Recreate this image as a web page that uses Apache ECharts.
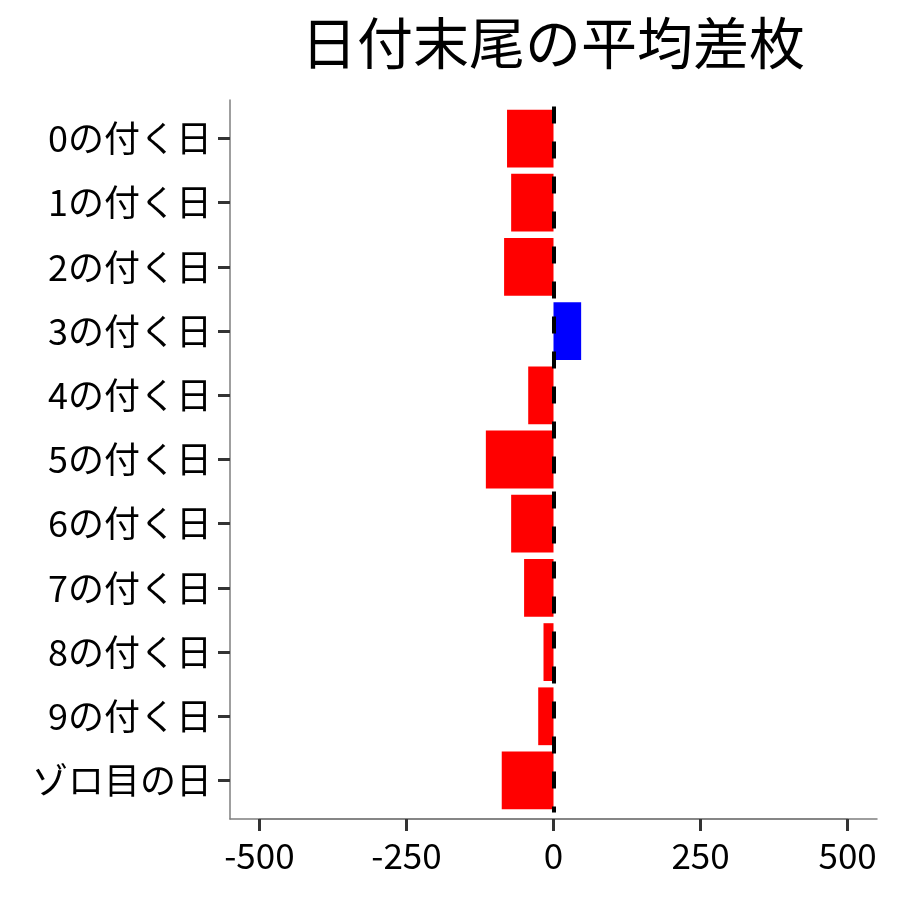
<!DOCTYPE html>
<html>
<head>
<meta charset="utf-8">
<script src="https://cdn.jsdelivr.net/npm/echarts@6/dist/echarts.min.js"></script>
<style>
  html, body { margin: 0; padding: 0; background: #fff; }
  #main { width: 900px; height: 900px; }
</style>
</head>
<body>
<div id="main"></div>
<script>
// 日付末尾ごとの平均差枚
var days = ['0の付く日', '1の付く日', '2の付く日', '3の付く日', '4の付く日',
  '5の付く日', '6の付く日', '7の付く日', '8の付く日', '9の付く日', 'ゾロ目の日']
var diffs = [-79, -72, -84, 47, -43, -115, -72, -50, -17, -26, -88]
var xTickLabels = ['-500', '-250', '0', '250', '500']
var xMin = -500
var xMax = 500
var xPad = 50   // 軸の余白 (ggplot風)

var font = '"Noto Sans CJK JP", "Noto Sans", sans-serif'

// 枠の位置
var L = 230, R = 23, T = 100, B = 81
var tickLen = 12
var plotW = 900 - L - R
var plotH = 900 - T - B
var padPx = plotW * xPad / (xMax - xMin + 2 * xPad)
var unitH = plotH / (days.length + 0.2)
var padY = unitH * 0.1

// 正負で色分け
var barData = []
for (var i = 0; i < diffs.length; i++) {
  barData.push({
    value: diffs[i],
    itemStyle: { color: diffs[i] >= 0 ? '#0000FF' : '#FF0000' }
  })
}

var chart = echarts.init(document.getElementById('main'))

var option = {
  backgroundColor: '#fff',
  animation: false,
  title: {
    text: '日付末尾の平均差枚',
    left: 548,
    textAlign: 'center',
    top: 10,
    textStyle: { fontFamily: font, fontSize: 56, fontWeight: 'normal', color: '#000' }
  },
  grid: [
    // 0: 軸線だけ
    { left: L, right: R, top: T, bottom: B },
    // 1: 棒
    { left: L, right: R, top: T + padY, bottom: B + padY },
    // 2: x目盛り (-500 〜 500)
    { left: L + padPx, right: R + padPx, top: T, bottom: B }
  ],
  xAxis: [
    {
      gridIndex: 0, type: 'value', min: xMin - xPad, max: xMax + xPad,
      splitLine: { show: false }, axisTick: { show: false }, axisLabel: { show: false },
      axisLine: { show: true, onZero: false, lineStyle: { color: '#7f7f7f', width: 1.5 } }
    },
    {
      gridIndex: 1, type: 'value', min: xMin - xPad, max: xMax + xPad, show: false
    },
    {
      gridIndex: 2, type: 'category', data: xTickLabels, boundaryGap: false,
      axisLine: { show: true, lineStyle: { color: '#7f7f7f', width: 1.5 } },
      axisTick: { show: true, length: tickLen, lineStyle: { color: '#333', width: 3 } },
      axisLabel: { interval: 0, margin: 19, fontFamily: font, fontSize: 35, color: '#000' }
    }
  ],
  yAxis: [
    {
      gridIndex: 0, type: 'value', min: 0, max: 1,
      splitLine: { show: false }, axisTick: { show: false }, axisLabel: { show: false },
      axisLine: { show: true, onZero: false, lineStyle: { color: '#7f7f7f', width: 1.5 } }
    },
    {
      gridIndex: 1, type: 'category', data: days, inverse: true,
      axisLine: { show: false, onZero: false },
      axisTick: { show: true, alignWithLabel: true, length: tickLen, lineStyle: { color: '#333', width: 3 } },
      axisLabel: { margin: 18, fontFamily: font, fontSize: 36, color: '#000' }
    },
    {
      gridIndex: 2, type: 'value', show: false
    }
  ],
  series: [{
    type: 'bar',
    xAxisIndex: 1,
    yAxisIndex: 1,
    data: barData,
    barCategoryGap: '10%',
    markLine: {
      silent: true,
      symbol: 'none',
      label: { show: false },
      lineStyle: { color: '#000', type: [17, 18], width: 4 },
      data: [{ xAxis: 0 }]
    }
  }]
}

chart.setOption(option)
</script>
</body>
</html>
